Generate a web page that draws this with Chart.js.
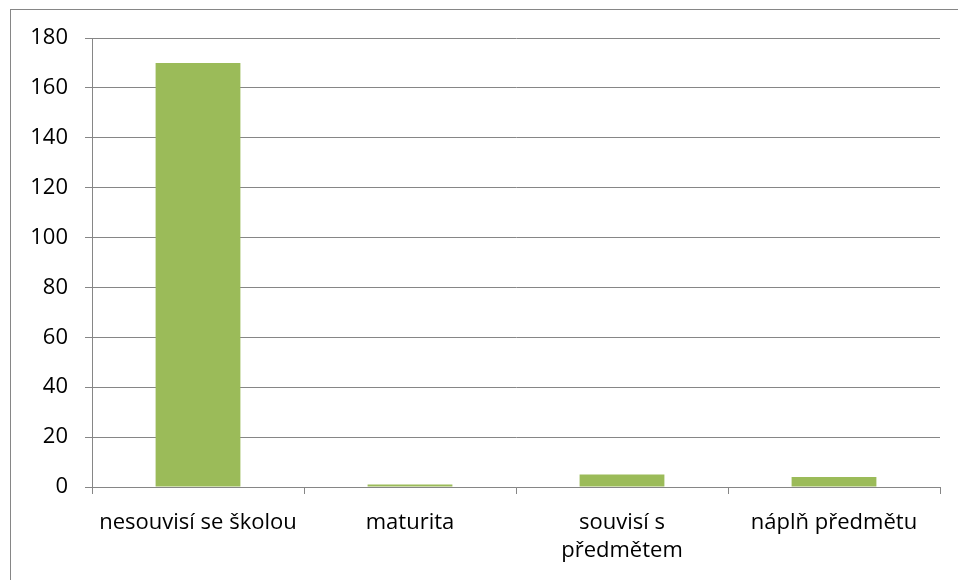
<!DOCTYPE html>
<html>
<head>
<meta charset="utf-8">
<script src="https://cdn.jsdelivr.net/npm/chart.js@4/dist/chart.umd.min.js"></script>
<style>
    body { margin: 0; background: #fff; }
    #wrap { width: 958px; height: 580px; position: relative; }
</style>
</head>
<body>
<div id="wrap"><canvas id="chart" width="958" height="580"></canvas></div>
<script>
const categories = ["nesouvisí se školou", "maturita", ["souvisí s", "předmětem"], "náplň předmětu"];
const values = [170, 1, 5, 4];
const y_ticks_max = 180;
const y_ticks_step = 20;

const axis_color = "#868686";
const bar_color = "#9bbb59";

const outerBorder = {
    id: "outerBorder",
    beforeDraw(chart) {
        const ctx = chart.ctx;
        ctx.save();
        ctx.strokeStyle = axis_color;
        ctx.lineWidth = 1;
        ctx.strokeRect(10.5, 9.5, 1000, 1000);
        ctx.restore();
    },
};

Chart.defaults.font.family = "'Open Sans', 'Noto Sans', sans-serif";
Chart.defaults.font.size = 22;
Chart.defaults.color = "#000";

new Chart(document.getElementById("chart"), {
    type: "bar",
    data: {
        labels: categories,
        datasets: [{
            data: values,
            backgroundColor: bar_color,
            categoryPercentage: 0.8,
            barPercentage: 0.5,
        }],
    },
    options: {
        responsive: false,
        animation: false,
        layout: { padding: { top: 38, right: 18, left: 0, bottom: 0 } },
        plugins: {
            legend: { display: false },
            tooltip: { enabled: false },
        },
        scales: {
            x: {
                grid: {
                    offset: true,
                    drawOnChartArea: false,
                    color: axis_color,
                    tickLength: 7,
                },
                border: { color: axis_color },
                ticks: { padding: 15, maxRotation: 0, autoSkip: false, font: { lineHeight: 1.27 } },
                afterFit: (scale) => { scale.height = 93; },
            },
            y: {
                min: 0,
                max: y_ticks_max,
                ticks: { stepSize: y_ticks_step, padding: 17 },
                grid: { color: axis_color, tickLength: 7 },
                border: { color: axis_color },
                afterFit: (scale) => { scale.width = 92; },
            },
        },
    },
    plugins: [outerBorder],
});
</script>
</body>
</html>
